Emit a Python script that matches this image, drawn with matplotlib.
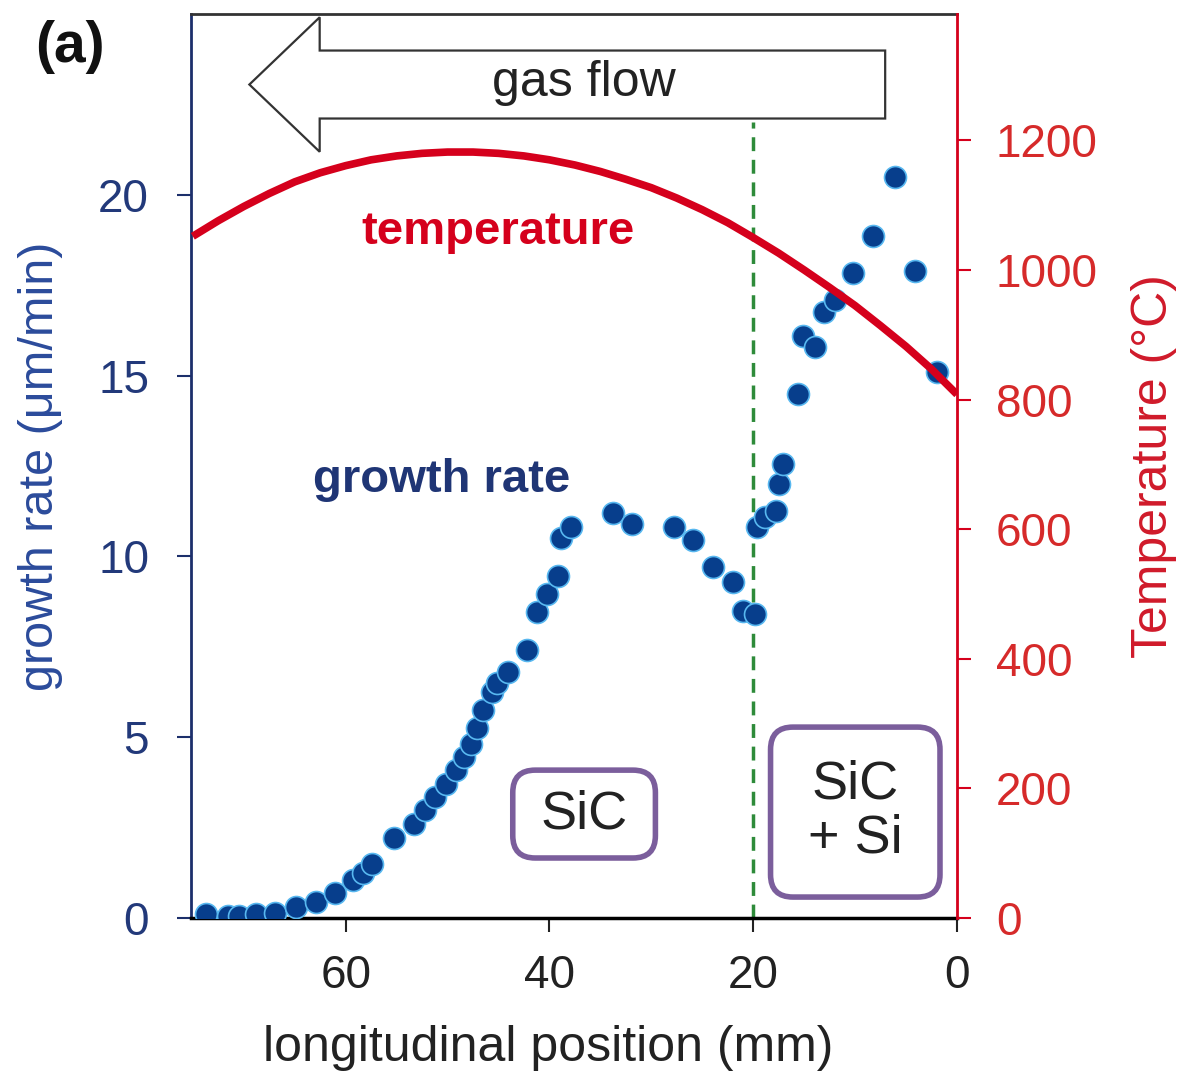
import matplotlib
matplotlib.use("Agg")
import matplotlib.pyplot as plt
from matplotlib.patches import FancyArrow, FancyBboxPatch

plt.rcParams['font.family'] = ['Liberation Sans', 'DejaVu Sans']

# growth rate data (position in mm, rate in um/min)
pos_mm = [73.7, 71.5, 70.5, 68.8, 66.9, 64.9, 62.9, 61.0, 59.3, 58.3, 57.4,
          55.3, 53.3, 52.2, 51.2, 50.2, 49.2, 48.4, 47.7, 47.1, 46.5, 45.6,
          45.1, 44.1, 42.2, 41.2, 40.2, 39.2, 38.9, 37.9,
          33.8, 31.9, 27.8, 25.9, 23.9, 22.0, 21.0, 19.8,
          19.6, 18.8, 17.8, 17.5, 17.1, 15.6, 15.1, 13.9, 13.1, 12.0,
          10.2, 8.2, 6.1, 4.1, 2.0]
growth = [0.1, 0.05, 0.05, 0.1, 0.15, 0.3, 0.45, 0.7, 1.05, 1.25, 1.5,
          2.2, 2.6, 3.0, 3.35, 3.7, 4.1, 4.45, 4.8, 5.25, 5.75, 6.25,
          6.5, 6.8, 7.4, 8.45, 8.95, 9.45, 10.5, 10.8,
          11.2, 10.9, 10.8, 10.45, 9.7, 9.3, 8.5, 8.4,
          10.8, 11.1, 11.25, 12.0, 12.55, 14.5, 16.1, 15.8, 16.75, 17.1,
          17.85, 18.85, 20.5, 17.9, 15.1]

# temperature profile (position in mm, degC)
temp_pos = [75, 72.5, 70, 67.5, 65, 62.5, 60, 57.5, 55, 52.5, 50, 47.5, 45,
            42.5, 40, 37.5, 35, 32.5, 30, 27.5, 25, 22.5, 20, 17.5, 15,
            12.5, 10, 7.5, 5, 2.5, 0]
temp_c = [1052, 1076, 1098, 1118, 1136, 1150, 1161, 1170, 1176, 1180, 1182,
          1182, 1180, 1176, 1170, 1162, 1152, 1140, 1127, 1111, 1093, 1073,
          1050, 1026, 1000, 973, 945, 914, 882, 847, 808]

navy = '#1c2f6b'
red = '#d5001c'
purple = '#7b5e9c'

fig = plt.figure(figsize=(11.85, 10.78), dpi=100)
ax = fig.add_axes([0.161, 0.1484, 0.6466, 0.8386])
ax2 = ax.twinx()

ax.scatter(pos_mm, growth, s=250, color='#073e8c', edgecolor='#58b8f0',
           linewidth=1.2, zorder=3)
ax.axvline(20, ymax=22.0 / 25, color='#2e8b3a', lw=2.5, ls=(0, (4, 2.5)), zorder=2)

ax2.plot(temp_pos, temp_c, color=red, lw=5.5, solid_capstyle='butt')

ax.set_xlim(75.2, 0)
ax.set_ylim(0, 25)
ax2.set_ylim(0, 1395)
ax.set_xticks([60, 40, 20, 0])
ax.set_yticks([0, 5, 10, 15, 20])
ax2.set_yticks([0, 200, 400, 600, 800, 1000, 1200])

ax.tick_params(axis='x', labelsize=33, length=10, width=1.5, pad=16, colors='#222222')
ax.tick_params(axis='y', labelsize=33, length=10, width=1.5, pad=20, colors=navy,
               labelcolor='#22397a')
ax2.tick_params(axis='y', labelsize=33, length=10, width=1.5, pad=18, colors=red,
                labelcolor='#d62a2a')

ax.spines['left'].set_color(navy)
ax.spines['left'].set_linewidth(2)
ax.spines['bottom'].set_linewidth(2.5)
ax.spines['top'].set_linewidth(2)
ax.spines['top'].set_color('#333333')
ax2.spines['right'].set_color(red)
ax2.spines['right'].set_linewidth(2)
ax2.spines['left'].set_visible(False)
ax2.spines['top'].set_visible(False)
ax2.spines['bottom'].set_visible(False)

ax.set_xlabel('longitudinal position (mm)', fontsize=36, color='#222222')
ax.xaxis.set_label_coords(0.466, -0.118)
ax.set_ylabel('growth rate (\u03bcm/min)', fontsize=35, color='#2b4b9b', labelpad=25)
ax2.set_ylabel('Temperature (\u00b0C)', fontsize=36, color='#d01a2a', labelpad=24)

ax.text(50.6, 12.1, 'growth rate', fontsize=34, fontweight='bold', color='#1f3575',
        ha='center', va='center')
ax2.text(45.0, 1058, 'temperature', fontsize=34, fontweight='bold', color=red,
         ha='center', va='center')

# phase boxes (rounded, drawn in data units)
for x0, x1, y0, y1 in [(43.6, 29.6, 1.66, 4.09), (18.3, 1.67, 0.58, 5.28)]:
    box = FancyBboxPatch((x1, y0), x0 - x1, y1 - y0,
                         boxstyle='round,pad=0,rounding_size=2.2',
                         mutation_aspect=0.282, fc='white', ec=purple, lw=4,
                         zorder=2)
    ax.add_patch(box)
ax.text(36.6, 2.85, 'SiC', fontsize=39, color='#222222', ha='center',
        va='center', zorder=3)
ax.text(10.0, 2.95, 'SiC\n+ Si', fontsize=39, color='#222222', ha='center',
        va='center', linespacing=1.1, zorder=3)

arrow = FancyArrow(7.05, 23.05, 62.4, 0, width=1.88, head_width=3.72,
                   head_length=6.9, length_includes_head=True,
                   fc='white', ec='#333333', lw=1.6, clip_on=False, zorder=4)
ax.add_patch(arrow)
ax.text(36.6, 23.1, 'gas flow', fontsize=36, color='#222222', ha='center',
        va='center', zorder=5)

fig.text(0.059, 0.956, '(a)', fontsize=41, fontweight='bold', color='#111111',
         ha='center', va='center')

fig.savefig('out.png', dpi=100)
